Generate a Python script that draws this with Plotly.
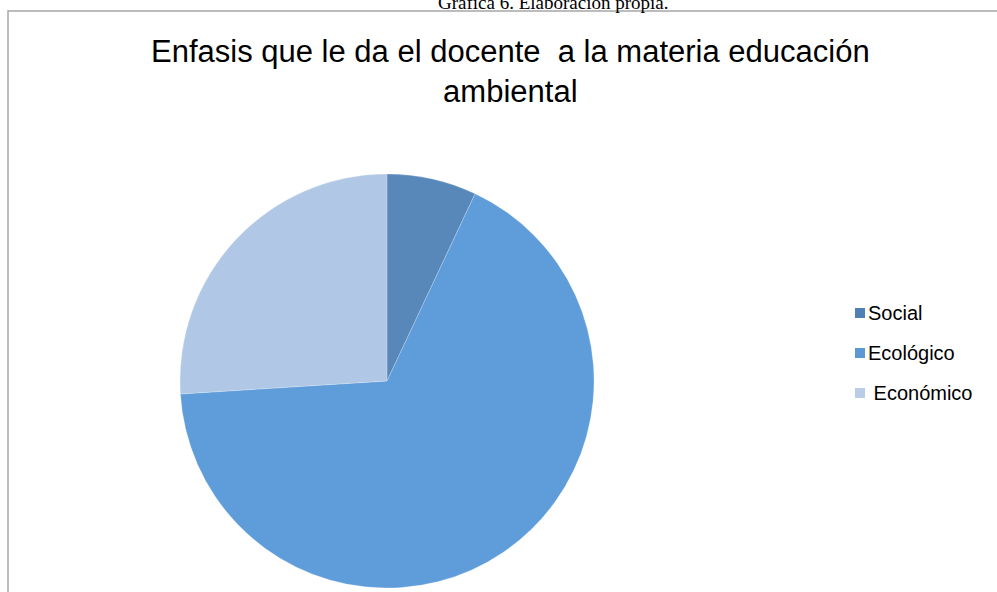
import plotly.graph_objects as go

W, H = 997, 592

categories = ["Social", "Ecológico", "Económico"]
legend_labels = ["Social", "Ecológico", " Económico"]
values = [7, 67, 26]
colors = ["#5888ba", "#5f9dda", "#b0c8e6"]
legend_colors = ["#4f80b4", "#5a98d6", "#b9cde9"]

title_text = "Enfasis que le da el docente \u00a0a la materia educación<br>ambiental"
caption_text = "Gráfica 6. Elaboración propia."

def px_x(x):
    return x / W

def px_y(y):
    return (H - y) / H

fig = go.Figure()
fig.add_trace(go.Pie(
    labels=categories,
    values=values,
    sort=False,
    direction="clockwise",
    rotation=0,
    textinfo="none",
    hoverinfo="label+value+percent",
    marker=dict(colors=colors, line=dict(color="rgba(255,255,255,0.35)", width=0.6)),
    domain=dict(x=[px_x(180), px_x(594)], y=[px_y(588), px_y(174)]),
    showlegend=False,
))

shapes = [
    dict(type="rect", xref="paper", yref="paper",
         x0=px_x(8), x1=px_x(1000), y0=px_y(620), y1=px_y(11),
         line=dict(color="#a6a6a6", width=1.5), fillcolor="rgba(0,0,0,0)", layer="below"),
]
annotations = [
    dict(text=title_text, xref="paper", yref="paper", x=px_x(510), y=px_y(71),
         xanchor="center", yanchor="middle", showarrow=False,
         font=dict(family="Liberation Sans, Arial", size=31, color="#000000")),
    dict(text=caption_text, xref="paper", yref="paper", x=px_x(553), y=px_y(2),
         xanchor="center", yanchor="middle", showarrow=False,
         font=dict(family="Liberation Serif, Times New Roman", size=19, color="#000000")),
]

leg_y0, leg_dy = 313, 40
for i, (lab, col) in enumerate(zip(legend_labels, legend_colors)):
    yc = leg_y0 + i * leg_dy
    shapes.append(dict(type="rect", xref="paper", yref="paper",
                       x0=px_x(855), x1=px_x(865), y0=px_y(yc + 5), y1=px_y(yc - 5),
                       line=dict(width=0), fillcolor=col))
    annotations.append(dict(text=lab, xref="paper", yref="paper", x=px_x(866), y=px_y(yc),
                            xanchor="left", yanchor="middle", showarrow=False,
                            font=dict(family="Liberation Sans, Arial", size=20, color="#000000")))

fig.update_layout(
    width=W, height=H,
    margin=dict(l=0, r=0, t=0, b=0),
    paper_bgcolor="white",
    plot_bgcolor="white",
    shapes=shapes,
    annotations=annotations,
)

fig.write_html("out.html",
               config={"displayModeBar": False},
               post_script="document.body.style.margin='0';document.body.style.overflow='hidden';")
